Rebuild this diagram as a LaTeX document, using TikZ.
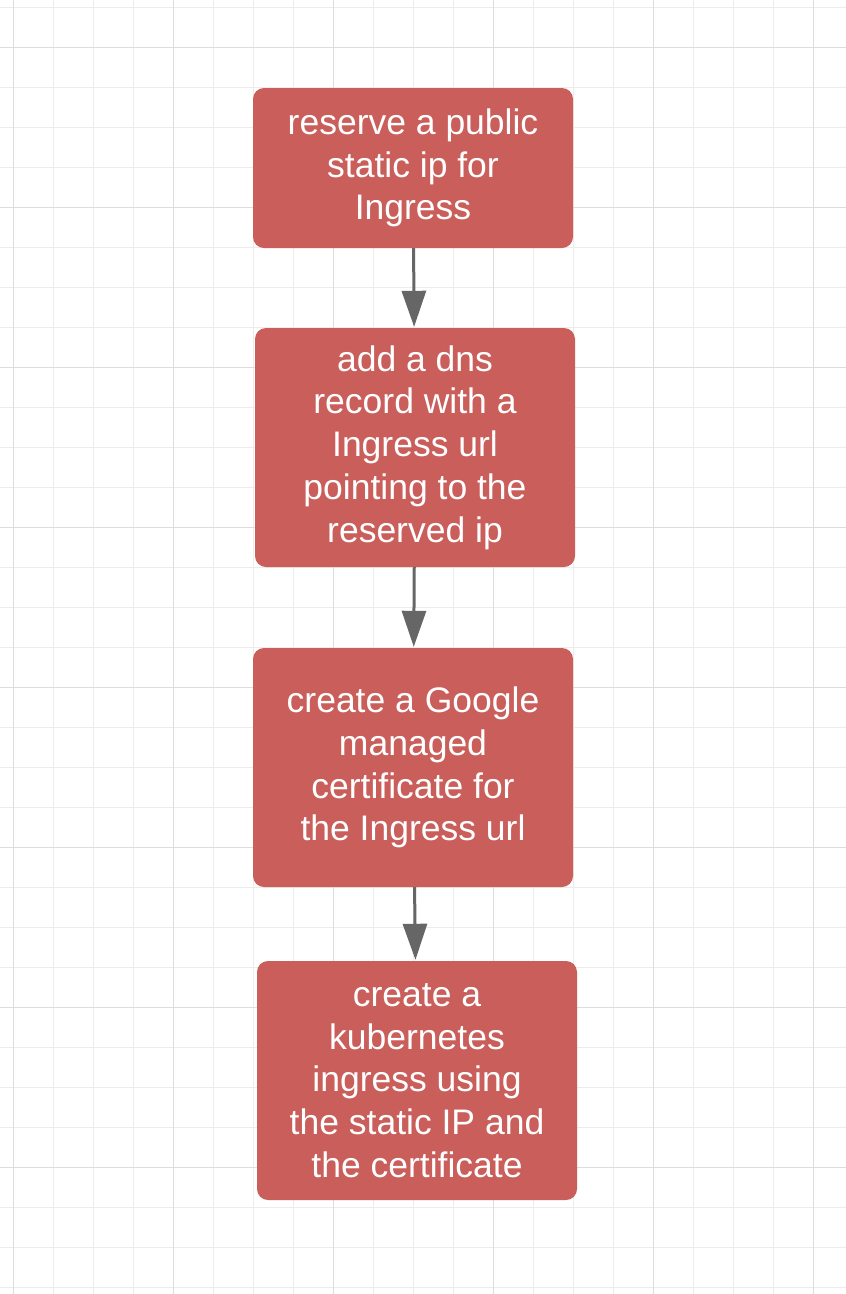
\documentclass[tikz,border=0pt]{standalone}
\usepackage{fontspec}
\setmainfont{Liberation Sans}
\usetikzlibrary{arrows.meta, positioning}
\definecolor{boxred}{RGB}{201,94,91}
\definecolor{arrowgray}{RGB}{102,102,102}
\definecolor{gridminor}{RGB}{236,236,236}
\definecolor{gridmajor}{RGB}{221,221,221}

\begin{document}
\begin{tikzpicture}[x=1pt,y=-1pt,
    stepbox/.style={rectangle,fill=boxred,text=white,rounded corners=11pt,minimum width=320pt,minimum height=239pt,align=center,font=\fontsize{35.5}{42.7}\selectfont},
    flowarrow/.style={-{Triangle[length=36pt,width=24pt]},line width=3pt,arrowgray,shorten >=1pt}]
    % sfondo e griglia
    \fill[white] (0,0) rectangle (846,1294);
    \useasboundingbox (0,0) rectangle (846,1294);
    \foreach \x in {13,53,...,853} \draw[gridminor,line width=1pt] (\x,0) -- (\x,1294);
    \foreach \y in {7,47,...,1294} \draw[gridminor,line width=1pt] (0,\y) -- (846,\y);
    \foreach \x in {13,173,...,853} \draw[gridmajor,line width=1pt] (\x,0) -- (\x,1294);
    \foreach \y in {47,207,...,1294} \draw[gridmajor,line width=1pt] (0,\y) -- (846,\y);

    % passi
    \node[stepbox,minimum height=160pt] (reserve) at (413,168) {reserve a public\\static ip for\\Ingress};
    \node[stepbox] (dns) at (415,447.5) {add a dns\\record with a\\Ingress url\\pointing to the\\reserved ip};
    \node[stepbox] (cert) at (413,767.5) {create a Google\\managed\\certificate for\\the Ingress url};
    \node[stepbox] (ingress) at (417,1080.5) {create a\\kubernetes\\ingress using\\the static IP and\\the certificate};

    % frecce
    \draw[flowarrow] (reserve) -- (dns);
    \draw[flowarrow] (dns) -- (cert);
    \draw[flowarrow] (cert) -- (ingress);
\end{tikzpicture}
\end{document}
